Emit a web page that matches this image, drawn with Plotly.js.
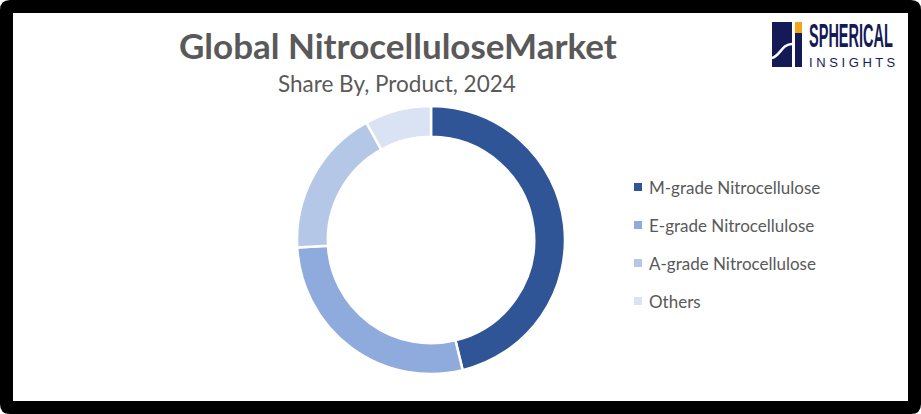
<!DOCTYPE html>
<html>
<head>
<meta charset="utf-8">
<script src="https://cdn.plot.ly/plotly-3.0.1.min.js"></script>
<style>html,body{margin:0;padding:0;background:#fff;}#chart{width:921px;height:414px;}</style>
</head>
<body>
<div id="chart"></div>
<script>
// ---- data ----
var categories = ["M-grade Nitrocellulose", "E-grade Nitrocellulose", "A-grade Nitrocellulose", "Others"];
var shares = [46.2, 27.9, 17.9, 8.0];
var sliceColors = ["#2F5597", "#8FAADC", "#B4C7E7", "#DAE3F3"];
var chartTitle = "Global NitrocelluloseMarket";
var chartSubtitle = "Share By, Product, 2024";

var W = 921, H = 414;
function px(x) { return x / W; }
function py(y) { return 1 - y / H; }

var textGray = "#595959";
var font = "Lato, 'Open Sans', sans-serif";
var navy = "#141a56";

var shapes = [
  // outer black frame (rounded)
  {type: "path", xref: "paper", yref: "paper", layer: "below",
   path: "M " + px(10) + "," + py(0) + " L " + px(911) + "," + py(0) +
         " Q " + px(921) + "," + py(0) + " " + px(921) + "," + py(10) +
         " L " + px(921) + "," + py(404) +
         " Q " + px(921) + "," + py(414) + " " + px(911) + "," + py(414) +
         " L " + px(10) + "," + py(414) +
         " Q " + px(0) + "," + py(414) + " " + px(0) + "," + py(404) +
         " L " + px(0) + "," + py(10) +
         " Q " + px(0) + "," + py(0) + " " + px(10) + "," + py(0) + " Z",
   fillcolor: "#000000", line: {width: 0}},
  // inner white panel
  {type: "rect", xref: "paper", yref: "paper", layer: "below",
   x0: px(13), x1: px(908), y0: py(401), y1: py(13),
   fillcolor: "#ffffff", line: {width: 0}},
  // logo blocks
  {type: "rect", xref: "paper", yref: "paper", layer: "above",
   x0: px(772), x1: px(792), y0: py(67), y1: py(22), fillcolor: navy, line: {width: 0}},
  {type: "path", xref: "paper", yref: "paper", layer: "above",
   path: "M " + px(772) + "," + py(58) + " C " + px(780) + "," + py(56) + " " + px(782) + "," + py(44) + " " + px(792) + "," + py(44),
   line: {color: "#ffffff", width: 2.5}},
  {type: "rect", xref: "paper", yref: "paper", layer: "above",
   x0: px(795), x1: px(802), y0: py(67), y1: py(33), fillcolor: navy, line: {width: 0}},
  {type: "rect", xref: "paper", yref: "paper", layer: "above",
   x0: px(795), x1: px(802), y0: py(33), y1: py(22), fillcolor: "#f5a31a", line: {width: 0}}
];

var annotations = [
  {text: "<b>" + chartTitle + "</b>", xref: "paper", yref: "paper", x: px(398), y: py(45),
   xanchor: "center", yanchor: "middle", showarrow: false, font: {family: font, size: 35, color: textGray}},
  {text: chartSubtitle, xref: "paper", yref: "paper", x: px(397), y: py(83),
   xanchor: "center", yanchor: "middle", showarrow: false, font: {family: font, size: 22.5, color: textGray}},
  {text: "<b>SPHERICAL</b>", xref: "paper", yref: "paper", x: px(807), y: py(36),
   xanchor: "left", yanchor: "middle", showarrow: false, name: "logo-main",
   font: {family: "'Liberation Sans', Arial, sans-serif", size: 33, color: navy}},
  {text: "I N S I G H T S", xref: "paper", yref: "paper", x: px(807), y: py(62),
   xanchor: "left", yanchor: "middle", showarrow: false,
   font: {family: "'Liberation Sans', Arial, sans-serif", size: 13, color: navy}}
];

// custom legend built from categories/colors
var legendX = 638, legendY0 = 187, legendStep = 38;
for (var i = 0; i < categories.length; i++) {
  var cy = legendY0 + i * legendStep;
  shapes.push({type: "rect", xref: "paper", yref: "paper", layer: "above",
    x0: px(legendX - 4), x1: px(legendX + 4), y0: py(cy + 4), y1: py(cy - 4),
    fillcolor: sliceColors[i], line: {width: 0}});
  annotations.push({text: categories[i], xref: "paper", yref: "paper", x: px(647), y: py(cy),
    xanchor: "left", yanchor: "middle", showarrow: false,
    font: {family: font, size: 17, color: textGray}});
}

var data = [{
  type: "pie",
  labels: categories,
  values: shares,
  sort: false,
  direction: "clockwise",
  rotation: 0,
  hole: 0.77,
  textinfo: "none",
  hoverinfo: "label+percent",
  marker: {colors: sliceColors, line: {color: "#ffffff", width: 2.5}},
  domain: {x: [px(297), px(565)], y: [py(374), py(106)]},
  showlegend: false
}];

var layout = {
  width: W, height: H,
  margin: {l: 0, r: 0, t: 0, b: 0},
  paper_bgcolor: "#ffffff",
  plot_bgcolor: "#ffffff",
  showlegend: false,
  shapes: shapes,
  annotations: annotations,
  font: {family: font, color: textGray}
};

Plotly.newPlot("chart", data, layout, {displayModeBar: false, staticPlot: true}).then(function (gd) {
  // condense the logo word mark horizontally to match its narrow typeface
  var texts = gd.querySelectorAll("g.annotation text");
  texts.forEach(function (t) {
    if (t.textContent === "SPHERICAL") {
      t.style.transformBox = "fill-box";
      t.style.transformOrigin = "left center";
      t.style.transform = "scaleX(0.44)";
    }
  });
});
</script>
</body>
</html>
